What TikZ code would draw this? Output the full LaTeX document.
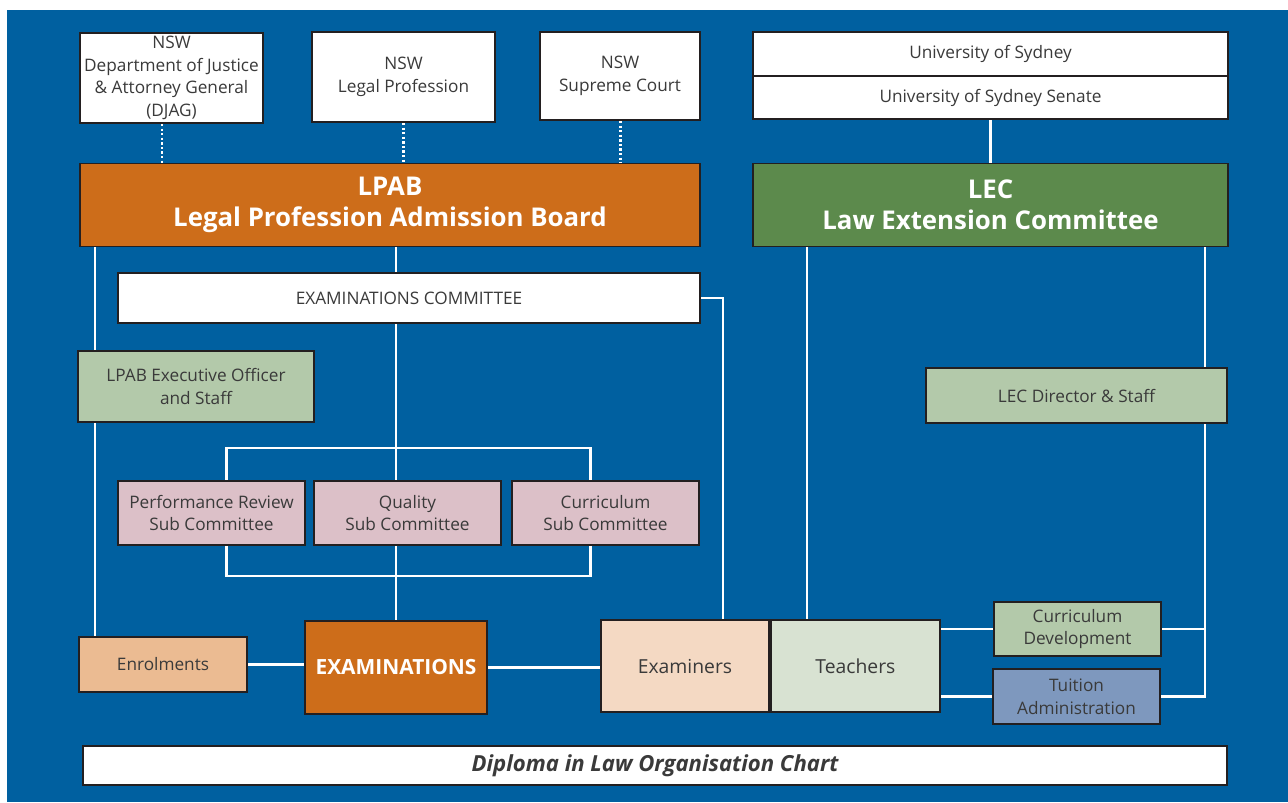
\documentclass[tikz,border=0pt]{standalone}
\usepackage{fontspec}
\setmainfont{Open Sans}
\usepackage{xcolor}
\usetikzlibrary{positioning,backgrounds}

\definecolor{chartblue}{HTML}{0060A0}
\definecolor{lpaborange}{HTML}{CD6D1A}
\definecolor{lecgreen}{HTML}{5C8A4C}
\definecolor{staffgreen}{HTML}{B3C9AA}
\definecolor{subpink}{HTML}{DCC0C8}
\definecolor{enrolpeach}{HTML}{EBBB92}
\definecolor{examinerpeach}{HTML}{F4D9C3}
\definecolor{teachergreen}{HTML}{D8E2D2}
\definecolor{tuitionblue}{HTML}{7E98BE}
\definecolor{edgegrey}{HTML}{231F20}
\definecolor{textgrey}{HTML}{3A3A3A}

\tikzset{
  box/.style={draw=edgegrey, line width=1.1pt, fill=white, text=textgrey, align=center, inner sep=1pt, font=\fontsize{9.8}{12.9}\selectfont},
  head/.style={box, text=white, font=\bfseries\fontsize{14.7}{17.5}\selectfont},
  link/.style={draw=white, line width=1.3pt},
  dotlink/.style={draw=white, line width=1.7pt, dash pattern=on 1.3pt off 1.3pt},
}

\begin{document}
\begin{tikzpicture}[x=0.02cm, y=-0.02cm]
    \useasboundingbox (0,0) rectangle (1288,802);
    % top row
    \node[box, minimum width=3.66cm, minimum height=1.8cm] (djag) at (171.5,78) {NSW\\Department of Justice\\\& Attorney General\\(DJAG)};
    \node[box, minimum width=3.66cm, minimum height=1.8cm] (prof) at (403.5,77) {NSW\\Legal Profession};
    \node[box, minimum width=3.2cm, minimum height=1.76cm] (court) at (620,76) {NSW\\Supreme Court};
    \node[box, minimum width=9.5cm, minimum height=0.88cm] (uni) at (990.5,54) {University of Sydney};
    \node[box, minimum width=9.5cm, minimum height=0.86cm] (senate) at (990.5,97.5) {University of Sydney Senate};
    % boards
    \node[head, fill=lpaborange, minimum width=12.4cm, minimum height=1.66cm] (lpab) at (390,205) {LPAB\\Legal Profession Admission Board};
    \node[head, fill=lecgreen, minimum width=9.5cm, minimum height=1.66cm] (lec) at (990.5,205) {LEC\\Law Extension Committee};
    \node[box, minimum width=11.64cm, minimum height=1cm] (excom) at (409,298) {EXAMINATIONS COMMITTEE};
    % staff
    \node[box, fill=staffgreen, minimum width=4.72cm, minimum height=1.42cm] (lpabstaff) at (196,386.5) {LPAB Executive Officer\\and Staff};
    \node[box, fill=staffgreen, minimum width=6.02cm, minimum height=1.1cm] (lecstaff) at (1076.5,395.5) {LEC Director \& Staff};
    % sub committees
    \node[box, fill=subpink, minimum width=3.74cm, minimum height=1.28cm] (perf) at (211.5,513) {Performance Review\\Sub Committee};
    \node[box, fill=subpink, minimum width=3.74cm, minimum height=1.28cm] (qual) at (407.5,513) {Quality\\Sub Committee};
    \node[box, fill=subpink, minimum width=3.74cm, minimum height=1.28cm] (curr) at (605.5,513) {Curriculum\\Sub Committee};
    % bottom row
    \node[box, fill=enrolpeach, minimum width=3.36cm, minimum height=1.1cm] (enrol) at (163,664.5) {Enrolments};
    \node[box, fill=lpaborange, text=white, font=\bfseries\fontsize{11.9}{13}\selectfont, minimum width=3.64cm, minimum height=1.86cm] (exams) at (396,667.5) {EXAMINATIONS};
    \node[box, fill=examinerpeach, font=\fontsize{11}{13}\selectfont, minimum width=3.36cm, minimum height=1.84cm] (examiners) at (685,666) {Examiners};
    \node[box, fill=teachergreen, font=\fontsize{11}{13}\selectfont, minimum width=3.38cm, minimum height=1.84cm, right=0pt of examiners] (teachers) {Teachers};
    \node[box, fill=staffgreen, minimum width=3.34cm, minimum height=1.08cm] (currdev) at (1077.5,629) {Curriculum\\Development};
    \node[box, fill=tuitionblue, minimum width=3.34cm, minimum height=1.1cm] (tuition) at (1076.5,696.5) {Tuition\\Administration};
    \node[box, font=\bfseries\itshape\fontsize{12.6}{14}\selectfont, minimum width=22.88cm, minimum height=0.78cm] (title) at (655,765.5) {Diploma in Law Organisation Chart};

    \begin{scope}[on background layer]
        \fill[white] (0,0) rectangle (1288,802);
        \fill[chartblue] (7,10) rectangle (1288,802);      % backdrop
        % dotted ties to the LPAB
        \coordinate (djagdot) at ([xshift=-0.19cm]djag.south);
        \draw[dotlink] (djagdot) -- (djagdot |- lpab.north);
        \draw[dotlink] (prof.south) -- (prof.south |- lpab.north);
        \draw[dotlink] (court.south) -- (court.south |- lpab.north);
        \draw[link] (senate.south) -- (lec.north);
        % LPAB side
        \coordinate (lpabL) at ([xshift=0.32cm]lpab.south west);
        \draw[link] (lpabL) -- (lpabL |- enrol.north);
        \draw[link] (exams.north |- lpab.south) -- (exams.north |- excom.north);
        \draw[link] (exams.north |- excom.south) -- (exams.north);
        \draw[link] ([xshift=0.3cm]perf.north) -- ++(0,-32) -| ([xshift=-0.3cm]curr.north);
        \draw[link] ([xshift=0.3cm]perf.south) -- ++(0,30) -| ([xshift=-0.3cm]curr.south);
        \draw[link] (excom.east) -| ([xshift=0.76cm]examiners.north);
        \draw[link] (enrol.east) -- (enrol.east -| exams.west);
        \draw[link] (exams.east) -- (exams.east -| examiners.west);
        % LEC side
        \coordinate (lecL) at ([xshift=1.1cm]lec.south west);
        \draw[link] (lecL) -- (lecL |- teachers.north);
        \coordinate (lecR) at ([xshift=-0.48cm]lec.south east);
        \draw[link] (lecR) |- (tuition.east);
        \draw[link] (currdev.east) -- (currdev.east -| lecR);
        \draw[link] (teachers.east |- currdev.west) -- (currdev.west);
        \draw[link] (teachers.east |- tuition.west) -- (tuition.west);
    \end{scope}
\end{tikzpicture}
\end{document}
